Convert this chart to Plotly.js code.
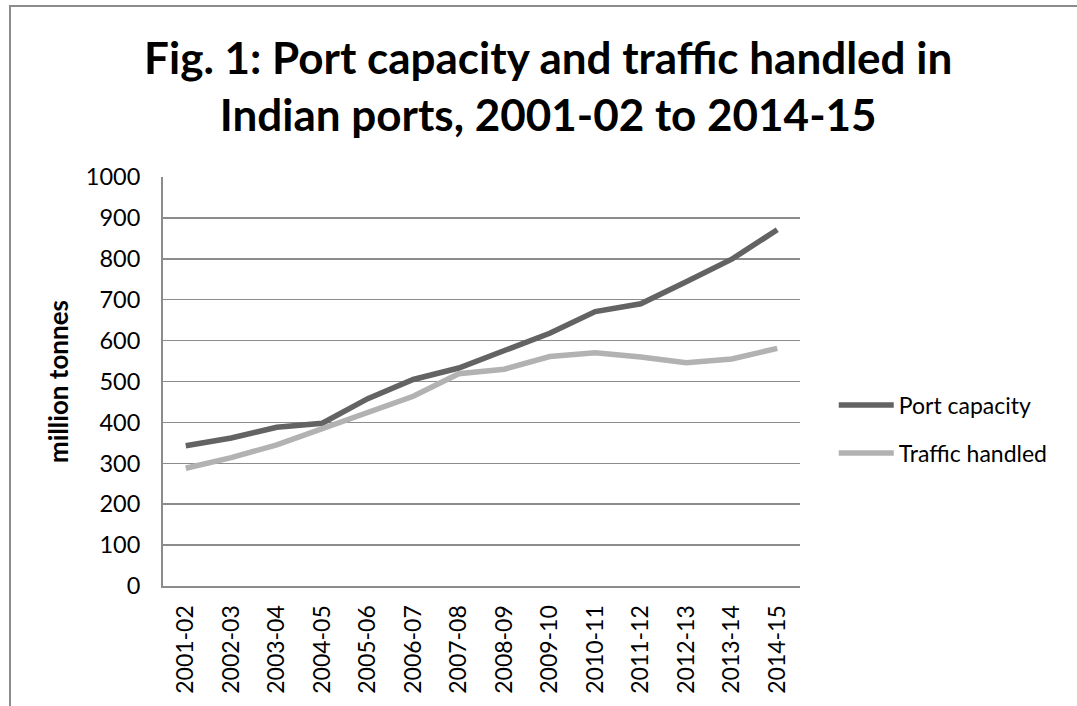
<!DOCTYPE html>
<html>
<head>
<meta charset="utf-8">
<script src="https://cdn.plot.ly/plotly-3.0.1.min.js"></script>
<style>
  html, body { margin: 0; padding: 0; background: #fff; }
  #wrap { position: relative; width: 1077px; height: 706px; overflow: hidden; }
  #chart { width: 1077px; height: 706px; }
  #frame { position: absolute; left: 9px; top: 5px; width: 1200px; height: 800px;
           border-left: 2px solid #8c8c8c; border-top: 2px solid #8c8c8c; pointer-events: none; }
</style>
</head>
<body>
<div id="wrap">
  <div id="chart"></div>
  <div id="frame"></div>
</div>
<script>
const years = ["2001-02","2002-03","2003-04","2004-05","2005-06","2006-07","2007-08",
               "2008-09","2009-10","2010-11","2011-12","2012-13","2013-14","2014-15"];
const portCapacity = [343, 362, 388, 398, 458, 505, 533, 577, 618, 671, 690, 744, 799, 871];
const trafficHandled = [288, 314, 345, 384, 426, 464, 519, 530, 561, 570, 560, 546, 555, 581];
const yTicks = [0,100,200,300,400,500,600,700,800,900,1000];

const FONT = "Lato, 'Open Sans', sans-serif";

const traces = [
  { x: years, y: portCapacity, name: "Port capacity", type: "scatter", mode: "lines",
    line: { color: "#636363", width: 5.5 }, legendgroup: "a" },
  { x: years, y: trafficHandled, name: "Traffic handled", type: "scatter", mode: "lines",
    line: { color: "#b2b2b2", width: 5.5 }, legendgroup: "b" }
];

const layout = {
  width: 1077, height: 706,
  margin: { l: 163, r: 277, t: 177, b: 120 },
  paper_bgcolor: "#fff", plot_bgcolor: "#fff",
  font: { family: FONT, color: "#000", size: 23 },
  title: {
    text: "Fig. 1: Port capacity and traffic handled in<br>Indian ports, 2001-02 to 2014-15",
    font: { family: FONT, size: 44, weight: "bold", color: "#000" },
    x: 0.509, xref: "container", xanchor: "center",
    y: 0.895, yref: "container", yanchor: "top"
  },
  xaxis: {
    type: "category",
    tickangle: -90,
    showgrid: false,
    showline: true, linecolor: "#8c8c8c", linewidth: 2,
    ticks: "", ticklabelstandoff: 8,
    tickfont: { family: FONT, size: 23, color: "#000" },
    range: [-0.5, years.length - 0.5],
    zeroline: false, fixedrange: true
  },
  yaxis: {
    range: [0, 1000],
    tickvals: yTicks,
    showgrid: true, gridcolor: "#8c8c8c", gridwidth: 1.5,
    showline: true, linecolor: "#8c8c8c", linewidth: 2,
    ticks: "", ticklabelstandoff: 16,
    tickfont: { family: FONT, size: 23.5, color: "#000" },
    zeroline: false,
    title: { text: "million tonnes", standoff: 10,
             font: { family: FONT, size: 26, weight: "bold", color: "#000" } },
    fixedrange: true
  },
  showlegend: true,
  legend: {
    x: 1.053, xanchor: "left", y: 0.495, yanchor: "top",
    font: { family: FONT, size: 23, color: "#000" },
    traceorder: "grouped", tracegroupgap: 15,
    itemwidth: 55, bgcolor: "rgba(0,0,0,0)"
  }
};

Plotly.newPlot("chart", traces, layout, { displayModeBar: false, staticPlot: true });
</script>
</body>
</html>
